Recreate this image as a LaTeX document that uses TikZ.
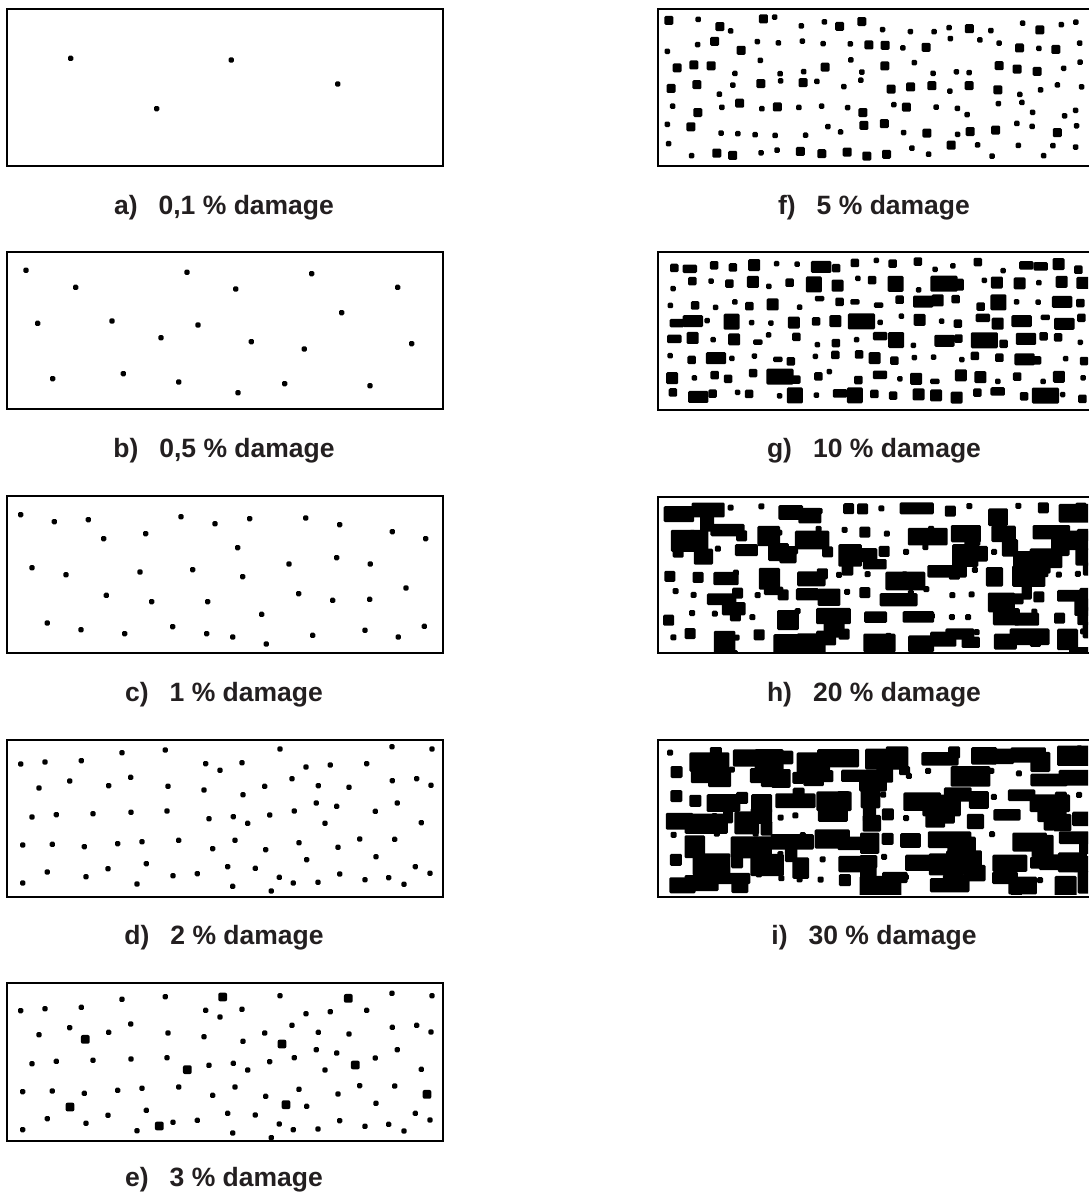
\documentclass[tikz,border=0pt]{standalone}
\usepackage{fontspec}
\setmainfont{Liberation Sans}
\definecolor{txt}{RGB}{35,31,32}
\begin{document}
\begin{tikzpicture}[x=1pt,y=-1pt,
  frame/.style={line width=1.8pt},
  lbl/.style={anchor=base,font=\fontsize{26.5}{30}\selectfont\bfseries,text=txt,inner sep=0pt},
  sd/.style={rounded corners=1.3pt},
  bd/.style={rounded corners=2pt}]
\useasboundingbox[fill=white] (0,0) rectangle (1088,1194);
\def\dotlist#1{\foreach \x/\y in {#1} \fill[sd] (\x,\y) ++(-2.6pt,-2.6pt) rectangle ++(5.2pt,5.2pt);}
% ---------- left column frames ----------
\draw[frame] (7.3,9.3) rectangle (443.3,165.7);
\draw[frame] (7.3,252.3) rectangle (443.3,409.3);
\draw[frame] (7.3,496) rectangle (443.3,653.3);
\draw[frame] (7.3,740.3) rectangle (443.3,897);
\draw[frame] (7.3,983.3) rectangle (443.3,1141.3);
% ---------- a) ----------
\begin{scope}[shift={(0,0)},x=0.33333pt,y=-0.33333pt]
\dotlist{212/175,694/180,1013/252,470/326}
\end{scope}
% ---------- b) ----------
\begin{scope}[shift={(0,245)},x=0.33333pt,y=-0.33333pt]
\dotlist{78/76,561/82,935/86,227/127,707/132,1193/127,1025/203,113/235,336/228,594/240,483/278,754/290,913/312,1235/296,158/401,370/386,536/411,854/416,714/443,1110/422}
\end{scope}
% ---------- c) ----------
\begin{scope}[shift={(0,490)},x=0.33333pt,y=-0.33333pt]
\dotlist{62/74,163/95,265/89,543/80,645/101,749/86,917/84,1019/104,311/146,437/131,1177/125,1277/146,713/173,96/233,198/254,420/246,578/239,728/260,867/222,1010/203,1111/222,319/316,455/335,623/335,896/311,998/331,1109/328,1218/294,785/373,142/399,243/419,374/431,518/410,620/431,698/441,799/462,938/436,1095/421,1195/441,1273/409}
\end{scope}
% ---------- d) and e) ----------
\def\dlist{62/93,135/87,244/83,366/59,496/51,840/48,1176/41,1296/48,617/92,660/112,726/89,918/102,991/96,1100/92,117/165,209/144,326/158,392/133,504/160,612/171,729/185,794/160,876/137,955/158,1047/163,1177/143,1250/137,1293/157,96/252,169/245,279/242,393/238,501/234,627/257,700/251,743/271,809/246,883/234,949/210,1010/220,975/271,1126/235,1192/210,1264/269,68/336,157/334,253/341,353/332,426/326,536/322,638/347,705/322,797/350,897/329,1014/343,1079/318,1184/319,920/380,1128/371,142/417,439/392,324/407,683/401,766/406,1246/401,1290/421,68/450,258/431,411/453,519/428,592/422,698/460,838/433,880/450,954/448,1019/423,1095/440,1166/434,1212/454,814/474}
\begin{scope}[shift={(0,733)},x=0.33333pt,y=-0.33333pt]
\foreach \x/\y in \dlist \fill[sd] (\x,\y) ++(-2.6pt,-2.6pt) rectangle ++(5.2pt,5.2pt);
\end{scope}
\begin{scope}[shift={(0,979.67)},x=0.33333pt,y=-0.33333pt]
\foreach \x/\y in \dlist \fill[sd] (\x,\y) ++(-2.6pt,-2.6pt) rectangle ++(5.2pt,5.2pt);
\foreach \x/\y in {668/52,1045/56,256/179,846/193,1066/256,562/270,1281/344,210/382,858/375,478/439}
  \fill[bd] (\x,\y) ++(-4.4pt,-4.4pt) rectangle ++(8.8pt,8.8pt);
\end{scope}
% ---------- right column frames ----------
\draw[frame] (658.3,9.3) rectangle (1100,165.7);
\draw[frame] (658.3,252.3) rectangle (1100,410);
\draw[frame] (658.3,496.7) rectangle (1100,653.3);
\draw[frame] (658.3,740) rectangle (1100,896.7);
% ---------- f) 5 % ----------
\begin{scope}
\clip (660.5,11.5) rectangle (1088,163.5);
\pgfmathsetseed{7}
\foreach \cx in {0,...,19}{\foreach \cy in {0,...,6}{
  \pgfmathsetmacro\qr{rnd}
  \pgfmathsetmacro\qs{\qr<0.62 ? 5.5 : 9}
  \pgfmathsetmacro\qx{663+\cx*21.5+rnd*(19-\qs)}
  \pgfmathsetmacro\qy{14+\cy*21+rnd*(21-\qs)}
  \fill[sd] (\qx,\qy) rectangle ++(\qs,\qs);
}}
\end{scope}
% ---------- g) 10 % ----------
\begin{scope}
\clip (660.5,254.5) rectangle (1088,407.8);
\pgfmathsetseed{21}
\foreach \cx in {0,...,20}{\foreach \cy in {0,...,7}{
  \pgfmathsetmacro\qr{rnd}
  \pgfmathsetmacro\qs{\qr<0.32 ? 5.5 : (\qr<0.64 ? 8.5 : (\qr<0.9 ? 12 : 16))}
  \pgfmathsetmacro\qw{\qs*(rnd<0.85 ? 1 : 1.7)}
  \pgfmathsetmacro\qx{662+\cx*20.5+rnd*(18-\qs)}
  \pgfmathsetmacro\qy{257+\cy*18.6+rnd*(17-\qs)}
  \fill[sd] (\qx,\qy) rectangle ++(\qw,\qs);
}}
\end{scope}
% ---------- h) 20 % ----------
\begin{scope}
\clip (660.5,498.9) rectangle (1088,651.1);
\pgfmathsetseed{33}
\foreach \cx in {0,...,19}{\foreach \cy in {0,...,6}{
  \pgfmathsetmacro\qr{rnd}
  \pgfmathsetmacro\qw{\qr<0.4 ? 6 : (\qr<0.6 ? 11 : 16+rnd*24)}
  \pgfmathsetmacro\qh{\qr<0.4 ? 6 : (\qr<0.6 ? 11 : 11+rnd*12)}
  \pgfmathsetmacro\qx{663+\cx*21.5+rnd*10}
  \pgfmathsetmacro\qy{502+\cy*21+rnd*8}
  \fill[sd] (\qx,\qy) rectangle ++(\qw,\qh);
  \pgfmathsetmacro\qa{(\qr>0.6 && rnd<0.35) ? 10+rnd*14 : 0}
  \pgfmathsetmacro\qb{(\qa>0) ? 8+rnd*10 : 0}
  \pgfmathsetmacro\qc{\qx+rnd*\qw*0.6}
  \pgfmathsetmacro\qd{\qy+\qh-3}
  \fill[sd] (\qc,\qd) rectangle ++(\qa,\qb);
}}
\end{scope}
% ---------- i) 30 % ----------
\begin{scope}
\clip (660.5,742.2) rectangle (1088,894.5);
\pgfmathsetseed{55}
\foreach \cx in {0,...,19}{\foreach \cy in {0,...,6}{
  \pgfmathsetmacro\qr{rnd}
  \pgfmathsetmacro\qw{\qr<0.32 ? 6 : (\qr<0.47 ? 12 : 16+rnd*28)}
  \pgfmathsetmacro\qh{\qr<0.32 ? 6 : (\qr<0.47 ? 12 : 11+rnd*12)}
  \pgfmathsetmacro\qx{663+\cx*21.5+rnd*9}
  \pgfmathsetmacro\qy{745+\cy*21+rnd*8}
  \fill[sd] (\qx,\qy) rectangle ++(\qw,\qh);
  \pgfmathsetmacro\qa{(\qr>0.47 && rnd<0.3) ? 10+rnd*14 : 0}
  \pgfmathsetmacro\qb{(\qa>0) ? 9+rnd*10 : 0}
  \pgfmathsetmacro\qc{\qx+rnd*\qw*0.6}
  \pgfmathsetmacro\qd{\qy+\qh-3}
  \fill[sd] (\qc,\qd) rectangle ++(\qa,\qb);
}}
\end{scope}
% ---------- labels ----------
\node[lbl] (la) at (224,214.3) {a)\hspace{21pt}0,1 \% damage};
\node[lbl] (lb) at (224,457.8) {b)\hspace{21pt}0,5 \% damage};
\node[lbl] (lc) at (224,701.3) {c)\hspace{21pt}1 \% damage};
\node[lbl] (ld) at (224,944.8) {d)\hspace{21pt}2 \% damage};
\node[lbl] (le) at (224,1186) {e)\hspace{21pt}3 \% damage};
\node[lbl] (lf) at (874,214.3) {f)\hspace{21pt}5 \% damage};
\node[lbl] (lg) at (874,457.8) {g)\hspace{21pt}10 \% damage};
\node[lbl] (lh) at (874,701.3) {h)\hspace{21pt}20 \% damage};
\node[lbl] (li) at (874,944.8) {i)\hspace{21pt}30 \% damage};
\end{tikzpicture}
\end{document}
